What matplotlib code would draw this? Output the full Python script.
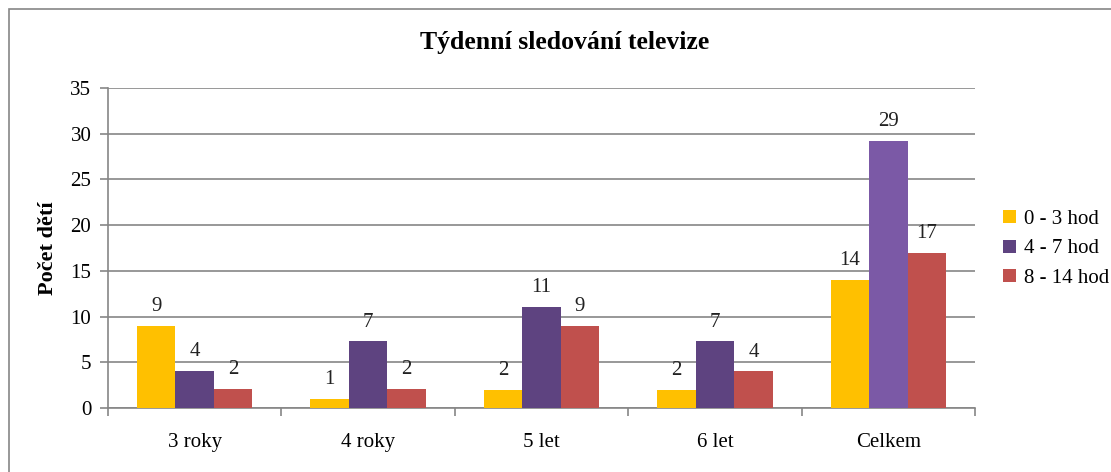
import matplotlib.pyplot as plt
import numpy as np
from matplotlib.patches import Rectangle

# data
categories = ['3 roky', '4 roky', '5 let', '6 let', 'Celkem']
series_names = ['0 - 3 hod', '4 - 7 hod', '8 - 14 hod']
hod_0_3 = [9, 1, 2, 2, 14]
hod_4_7 = [4.1, 7.3, 11.1, 7.3, 29.2]
hod_8_14 = [2.1, 2.1, 9, 4, 17]
labels_0_3 = ['9', '1', '2', '2', '14']
labels_4_7 = ['4', '7', '11', '7', '29']
labels_8_14 = ['2', '2', '9', '4', '17']
y_ticks = [0, 5, 10, 15, 20, 25, 30, 35]

plt.rcParams['font.family'] = ['Liberation Serif', 'DejaVu Serif']

fig = plt.figure(figsize=(11.11, 4.72), dpi=100)
fig.patches.append(Rectangle((9/1111, -0.1), 1.2, (472-9)/472 + 0.1, transform=fig.transFigure,
                             fill=False, edgecolor='#868686', linewidth=1.2))

ax = fig.add_axes([108/1111, (472-408)/472, (975-108)/1111, (408-88)/472])

x = np.arange(len(categories))
w = 0.222
grey = '#868686'

colors = ['#FFC000', '#5E4380', '#C0504D']
data = [hod_0_3, hod_4_7, hod_8_14]
labels = [labels_0_3, labels_4_7, labels_8_14]
for i, (vals, c, lab) in enumerate(zip(data, colors, labels)):
    bars = ax.bar(x + (i - 1) * w, vals, w, color=c, label=series_names[i], zorder=3)
    if i == 1:
        bars[-1].set_facecolor('#7B59A6')
    ax.bar_label(bars, labels=lab, padding=7, fontsize=15, color='#222222')

ax.set_xlim(-0.5, len(categories) - 0.5)
ax.set_ylim(0, 35)
ax.set_yticks(y_ticks)
ax.yaxis.grid(True, color=grey, linewidth=1.2, zorder=0)
ax.set_axisbelow(True)

ax.set_xticks(x)
ax.set_xticklabels(categories, fontsize=15)
ax.tick_params(axis='x', length=0, pad=18)
ax.set_xticks(np.arange(-0.5, len(categories)), minor=True)
ax.tick_params(axis='x', which='minor', length=6, color=grey, width=1.2)
ax.tick_params(axis='y', length=6, color=grey, width=1.2, labelsize=15, pad=6)

for s in ['top', 'right']:
    ax.spines[s].set_visible(False)
for s in ['left', 'bottom']:
    ax.spines[s].set_color(grey)
    ax.spines[s].set_linewidth(1.2)

ax.set_ylabel('Počet dětí', fontsize=16, fontweight='bold', labelpad=9)
fig.text(565/1111, 1 - 43/472, 'Týdenní sledování televize', ha='center', va='center',
         fontsize=18.5, fontweight='bold')

ax.legend(loc='center left', bbox_to_anchor=(1.023, 0.497), frameon=False, fontsize=15,
          handlelength=0.6, handleheight=0.6, handletextpad=0.4, labelspacing=0.5,
          borderaxespad=0, borderpad=0.4)

fig.savefig('out.png', dpi=100)
